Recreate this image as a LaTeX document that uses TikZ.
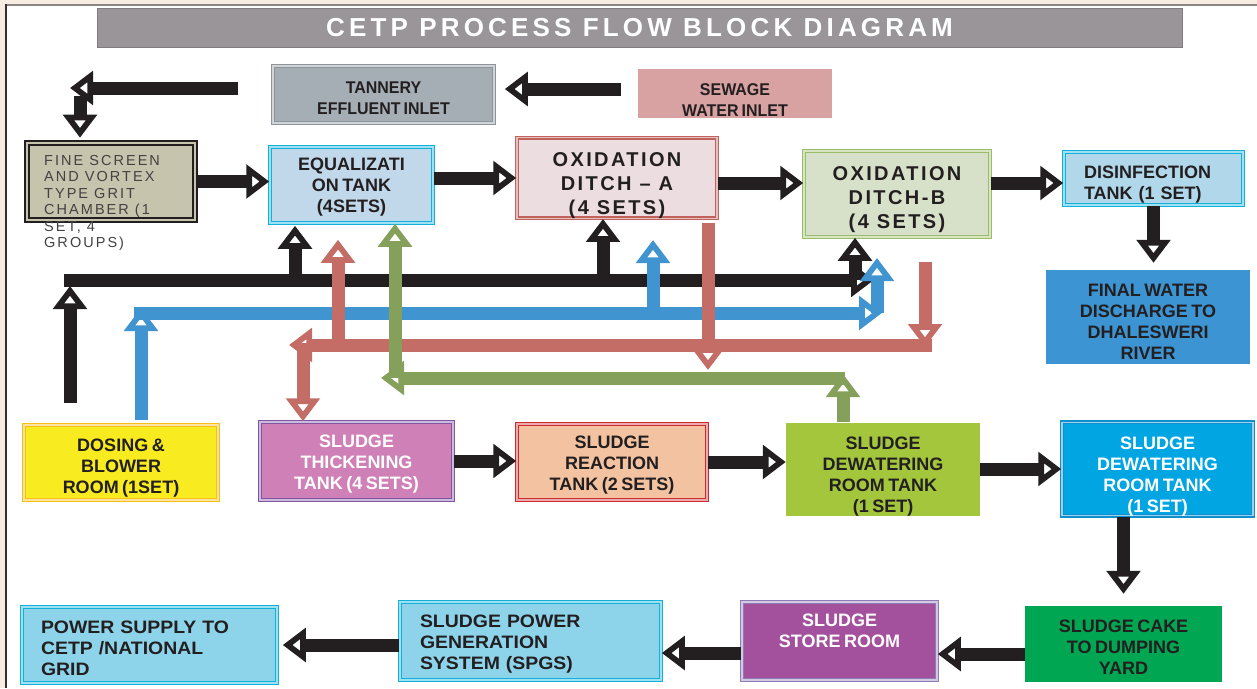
\documentclass[tikz,border=0pt]{standalone}
\usepackage{fontspec}
\setmainfont{Liberation Sans}
\newfontfamily\cnd{Liberation Sans}[WordSpace=0.7]
\newfontfamily\cndn{Liberation Sans}[FakeStretch=0.94, WordSpace=0.7]
\newfontfamily\cndw{Liberation Sans}[FakeStretch=1.08, WordSpace=0.7]
\newfontfamily\titlef{Liberation Sans}[LetterSpace=16]
\newfontfamily\oxf{Liberation Sans}[LetterSpace=12]
\newfontfamily\finef{Liberation Sans}[LetterSpace=14]
\usetikzlibrary{arrows.meta}
\definecolor{beige}{HTML}{F6ECE0}
\definecolor{topline}{HTML}{8A8583}
\definecolor{leftline}{HTML}{3A2F2A}
\definecolor{titlefill}{HTML}{9A9599}
\definecolor{titledraw}{HTML}{7F7B7F}
\definecolor{tanfill}{HTML}{A6AEB5}
\definecolor{tandraw}{HTML}{8C959C}
\definecolor{sewfill}{HTML}{D8A2A2}
\definecolor{finefill}{HTML}{C6C4AC}
\definecolor{eqfill}{HTML}{C1D8EB}
\definecolor{cyanb}{HTML}{12B1DC}
\definecolor{oxafill}{HTML}{EBDDE0}
\definecolor{oxadraw}{HTML}{C1625C}
\definecolor{oxbfill}{HTML}{D7E1C9}
\definecolor{oxbdraw}{HTML}{9BBD6A}
\definecolor{disfill}{HTML}{B0D8EA}
\definecolor{finfill}{HTML}{3C94D2}
\definecolor{dosfill}{HTML}{F8EC21}
\definecolor{dosdraw}{HTML}{F7BE16}
\definecolor{thkfill}{HTML}{CF80B6}
\definecolor{thkdraw}{HTML}{8055A3}
\definecolor{reafill}{HTML}{F3C3A1}
\definecolor{readraw}{HTML}{CE2B2F}
\definecolor{dwgfill}{HTML}{A3C63C}
\definecolor{dwbfill}{HTML}{01A5E2}
\definecolor{dwbdraw}{HTML}{0D8FD0}
\definecolor{cakefill}{HTML}{00A651}
\definecolor{strfill}{HTML}{A4519D}
\definecolor{strdraw}{HTML}{8F7BB6}
\definecolor{pwrfill}{HTML}{8DD4EB}
\definecolor{ink}{HTML}{231F20}
\definecolor{redl}{HTML}{C46C66}
\definecolor{grnl}{HTML}{85A05A}
\definecolor{blul}{HTML}{4094D0}
% empty leading line with an extra skip: moves the text block of a node
\newcommand{\lowr}[1]{\mbox{}\\[#1pt]}
\tikzset{
  box/.style={rectangle, inner sep=0pt, align=center, text=ink},
  dbl/.style={draw=#1, line width=1.5pt, double=white!60!#1, double distance=1.2pt},
  lab/.style={font=\cnd\bfseries\fontsize{18}{21}\selectfont},
  labn/.style={font=\cndn\bfseries\fontsize{17}{21}\selectfont},
  labw/.style={font=\cndw\bfseries\fontsize{18}{21}\selectfont},
  widelab/.style={font=\oxf\bfseries\fontsize{20}{24}\selectfont},
  flow/.style={line width=13pt, -{Triangle[open, line width=7pt, length=23pt, width=33pt]}},
  blk/.style={flow, draw=ink},
  blu/.style={flow, draw=blul},
  rda/.style={flow, draw=redl},
  gra/.style={flow, draw=grnl},
}
\begin{document}
\begin{tikzpicture}[x=1pt,y=-1pt]
\useasboundingbox (0,0) rectangle (1257,688);
\fill[white] (0,0) rectangle (1257,688);
\fill[beige] (0,0) rectangle (1257,5);
\fill[beige] (0,0) rectangle (5,688);
\fill[topline] (5,4) rectangle (1257,6);
\fill[leftline] (5,4) rectangle (7,688);

% title
\node[box, fill=titlefill, draw=titledraw, line width=1pt, minimum width=1085pt, minimum height=39pt,
  text=white, font=\titlef\bfseries\fontsize{26}{28}\selectfont] (title) at (639.5,27.5) {CETP PROCESS FLOW BLOCK DIAGRAM};

% nodes
\node[box, labn, fill=tanfill, dbl=tandraw, minimum width=221pt, minimum height=57pt] (tannery) at (383.5,94.5) {\lowr{-1.8}TANNERY\\EFFLUENT INLET};
\node[box, labn, fill=sewfill, minimum width=194pt, minimum height=49pt] (sewage) at (735,93.5) {\lowr{3}SEWAGE\\WATER INLET};
\node[box, fill=finefill, draw=ink, line width=2.6pt, double=finefill, double distance=1.6pt, minimum width=168pt, minimum height=77pt] (fine) at (111,181.5) {};
\node[anchor=north west, inner sep=0pt, align=left, text=ink!85, font=\finef\fontsize{14.5}{16.5}\selectfont] (finetext) at (44,155) {FINE SCREEN\\AND VORTEX\\TYPE GRIT\\CHAMBER (1\\SET, 4\\GROUPS)};
\node[box, lab, fill=eqfill, dbl=cyanb, minimum width=163pt, minimum height=76pt] (equal) at (351.5,185) {\lowr{-4}EQUALIZATI\\ON TANK\\(4SETS)};
\node[box, widelab, fill=oxafill, dbl=oxadraw, minimum width=200pt, minimum height=80pt] (oxa) at (617,178) {\lowr{4.3}OXIDATION\\DITCH – A\\(4 SETS)};
\node[box, widelab, fill=oxbfill, dbl=oxbdraw, minimum width=186pt, minimum height=86pt] (oxb) at (897,194) {\lowr{0.3}OXIDATION\\DITCH-B\\(4 SETS)};
\node[box, lab, fill=disfill, dbl=cyanb, align=left, text width=139pt, inner xsep=20pt, minimum height=53pt] (disinf) at (1153.5,178.5) {\lowr{3.9}DISINFECTION\\TANK (1 SET)};
\node[box, lab, fill=finfill, minimum width=204pt, minimum height=94pt] (final) at (1148,317) {\lowr{0.9}FINAL WATER\\DISCHARGE TO\\DHALESWERI\\RIVER};
\node[box, lab, fill=dosfill, dbl=dosdraw, minimum width=194pt, minimum height=75pt] (dosing) at (121,462.5) {\lowr{1.9}DOSING \&\\BLOWER\\ROOM (1SET)};
\node[box, lab, text=white, fill=thkfill, dbl=thkdraw, minimum width=193pt, minimum height=78pt] (thick) at (356.5,461) {\lowr{-2.1}SLUDGE\\THICKENING\\TANK (4 SETS)};
\node[box, lab, fill=reafill, dbl=readraw, minimum width=190pt, minimum height=76pt] (react) at (612,462) {\lowr{-2.1}SLUDGE\\REACTION\\TANK (2 SETS)};
\node[box, lab, fill=dwgfill, minimum width=194pt, minimum height=91pt] (dewg) at (883,469.5) {\lowr{5.9}SLUDGE\\DEWATERING\\ROOM TANK\\(1 SET)};
\node[box, lab, text=white, fill=dwbfill, dbl=dwbdraw, minimum width=191pt, minimum height=90pt] (dewb) at (1157.5,469) {\lowr{5.9}SLUDGE\\DEWATERING\\ROOM TANK\\(1 SET)};
\node[box, lab, fill=cakefill, minimum width=197pt, minimum height=76pt] (cake) at (1123.5,644) {\lowr{-1.1}SLUDGE CAKE\\TO DUMPING\\YARD};
\node[box, lab, text=white, fill=strfill, dbl=strdraw, minimum width=195pt, minimum height=78pt] (store) at (839.5,641) {SLUDGE\\STORE ROOM\\\mbox{}};
\node[box, labw, fill=pwrfill, dbl=cyanb, align=left, text width=221pt, inner xsep=20pt, minimum height=78pt] (spgs) at (530.5,641) {\lowr{-2.1}SLUDGE POWER\\GENERATION\\SYSTEM (SPGS)};
\node[box, labw, fill=pwrfill, dbl=cyanb, align=left, text width=217pt, inner xsep=19pt, minimum height=76pt] (power) at (149.5,645) {\lowr{-2.1}POWER SUPPLY TO\\CETP /NATIONAL\\GRID};

% black process arrows
\coordinate (tk) at (238,88);
\coordinate (tkc) at (70,88);
\coordinate (tkd) at (80,96);
\draw[blk] (tk) -- (tkc);
\draw[blk, shorten >=4pt] (tkd) -- (tkd |- fine.north);
\coordinate (sw) at (621,89);
\draw[blk, shorten >=10pt] (sw) -- (sw -| tannery.east);
\draw[blk] (fine.east) -- (fine.east -| equal.west);
\draw[blk] (equal.east |- oxa.west) -- (oxa.west);
\draw[blk] ([yshift=-5pt]oxa.east) -- ([yshift=-5pt]oxa.east -| oxb.west);
\coordinate (d6) at ([yshift=-4.5pt]disinf.west);
\draw[blk] (oxb.east |- d6) -- (d6);
\draw[blk, shorten >=7pt] (disinf.south) -- (disinf.south |- final.north);
\draw[blk] (thick.east) -- (thick.east -| react.west);
\draw[blk] (react.east) -- (react.east -| dewg.west);
\draw[blk] (dewg.east |- dewb.west) -- (dewb.west);
\draw[blk, shorten >=12pt] (cake.north |- dewb.south) -- (cake.north);
\coordinate (c12) at ([yshift=-10pt]cake.west);
\draw[blk] (c12) -- (c12 -| store.east);
\coordinate (c13) at ([yshift=-12pt]store.west);
\draw[blk] (c13) -- (c13 -| spgs.east);
\draw[blk, shorten >=5pt] (spgs.west |- power.east) -- (power.east);

% black bus
\coordinate (bL) at (64,280);
\coordinate (bR) at (874,280);
\draw[blk] (bL) -- (bR);
\coordinate (dA) at (70,403);
\draw[blk, shorten >=6pt] (dA) -- (dA |- bL);
\coordinate (u1) at (295,280);
\draw[blk, shorten >=2pt] (u1) -- (u1 |- equal.south);
\coordinate (u2) at (603,280);
\draw[blk] (u2) -- (u2 |- oxa.south);
\coordinate (u3) at (855,280);
\draw[blk] (u3) -- (u3 |- oxb.south);

% blue bus
\coordinate (lL) at (134,313);
\coordinate (lR) at (882,313);
\draw[blu] (lL) -- (lR);
\coordinate (dB) at (141,420);
\coordinate (dBt) at (141,308);
\draw[blu] (dB) -- (dBt);
\coordinate (bu1) at (653,313);
\coordinate (bu1t) at (653,240);
\draw[blu] (bu1) -- (bu1t);
\coordinate (bu2) at (877,313);
\coordinate (bu2t) at (877,258);
\draw[blu] (bu2) -- (bu2t);

% red lines
\coordinate (rR) at (932,345);
\coordinate (rL) at (289,345);
\draw[rda] (rR) -- (rL);
\coordinate (rv1t) at (708,370);
\draw[rda, shorten <=4pt] (oxa.south -| rv1t) -- (rv1t);
\coordinate (rv2) at (925,262);
\coordinate (rv2t) at (925,347);
\draw[rda] (rv2) -- (rv2t);
\coordinate (ru) at (338,345);
\draw[rda, shorten >=16pt] (ru) -- (ru |- equal.south);
\coordinate (rd) at (303,343);
\draw[rda] (rd) -- (rd |- thick.north);

% green lines
\coordinate (gR) at (845,378);
\coordinate (gL) at (381,378);
\draw[gra] (gR) -- (gL);
\coordinate (gu) at (843,374);
\draw[gra] (dewg.north -| gu) -- (gu);
\coordinate (gv) at (395,378);
\draw[gra] (gv) -- (gv |- equal.south);
\end{tikzpicture}
\end{document}
